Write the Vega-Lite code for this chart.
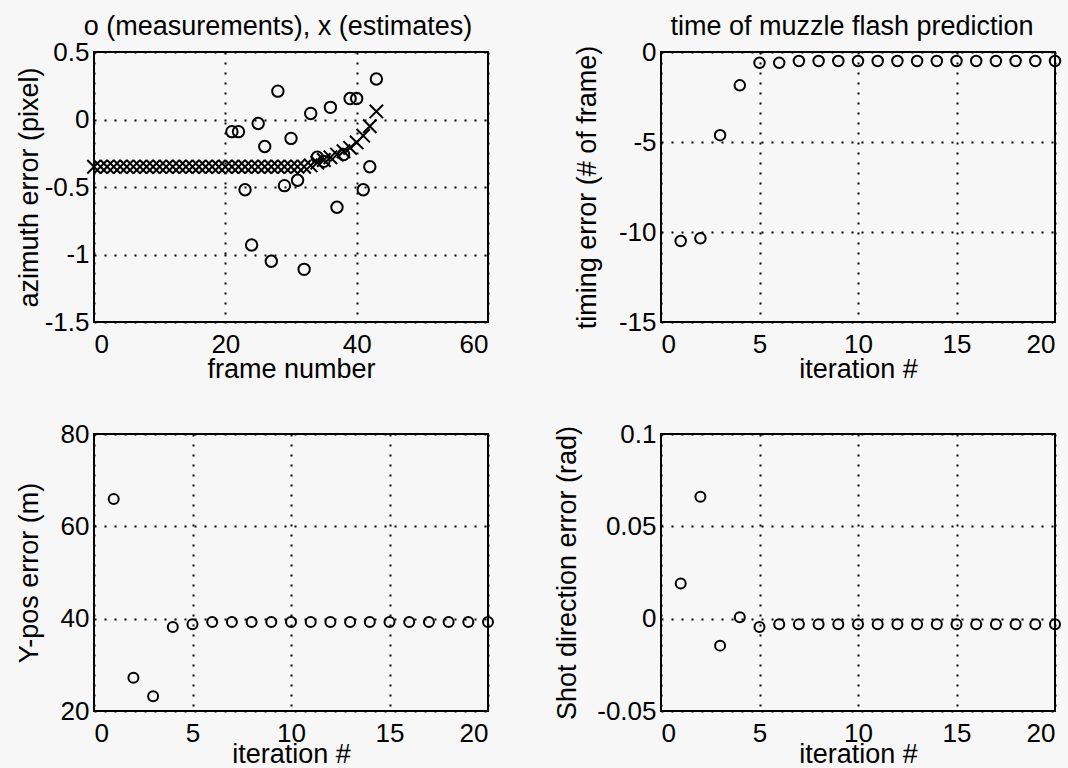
{
  "$schema": "https://vega.github.io/schema/vega-lite/v6.json",
  "background": "#f7f7f7",
  "padding": {"left": 13, "top": 12, "right": 5, "bottom": 5},
  "config": {
    "font": "Liberation Sans",
    "view": {"stroke": "black", "strokeWidth": 2, "fill": null},
    "axis": {
      "grid": true,
      "gridColor": "black",
      "gridDash": [2, 8],
      "gridWidth": 2,
      "gridOpacity": 1,
      "ticks": false,
      "domain": false,
      "labelFont": "Liberation Sans",
      "labelFontSize": 26,
      "labelColor": "black",
      "titleFont": "Liberation Sans",
      "titleFontSize": 27,
      "titleFontWeight": "normal",
      "titleColor": "black"
    },
    "axisX": {"labelPadding": 9, "titleY": 33},
    "axisY": {"labelPadding": 5},
    "title": {"font": "Liberation Sans", "fontSize": 27, "fontWeight": "normal", "color": "black", "offset": -2, "anchor": "middle", "frame": "group"},
    "point": {"filled": false, "stroke": "black", "strokeWidth": 2, "opacity": 1}
  },
  "datasets": {
    "azimuth": [
      {"frame": 0, "error": -0.35, "kind": "estimate"},
      {"frame": 1, "error": -0.35, "kind": "estimate"},
      {"frame": 2, "error": -0.35, "kind": "estimate"},
      {"frame": 3, "error": -0.35, "kind": "estimate"},
      {"frame": 4, "error": -0.35, "kind": "estimate"},
      {"frame": 5, "error": -0.35, "kind": "estimate"},
      {"frame": 6, "error": -0.35, "kind": "estimate"},
      {"frame": 7, "error": -0.35, "kind": "estimate"},
      {"frame": 8, "error": -0.35, "kind": "estimate"},
      {"frame": 9, "error": -0.35, "kind": "estimate"},
      {"frame": 10, "error": -0.35, "kind": "estimate"},
      {"frame": 11, "error": -0.35, "kind": "estimate"},
      {"frame": 12, "error": -0.35, "kind": "estimate"},
      {"frame": 13, "error": -0.35, "kind": "estimate"},
      {"frame": 14, "error": -0.35, "kind": "estimate"},
      {"frame": 15, "error": -0.35, "kind": "estimate"},
      {"frame": 16, "error": -0.35, "kind": "estimate"},
      {"frame": 17, "error": -0.35, "kind": "estimate"},
      {"frame": 18, "error": -0.35, "kind": "estimate"},
      {"frame": 19, "error": -0.35, "kind": "estimate"},
      {"frame": 20, "error": -0.35, "kind": "estimate"},
      {"frame": 21, "error": -0.35, "kind": "estimate"},
      {"frame": 22, "error": -0.35, "kind": "estimate"},
      {"frame": 23, "error": -0.35, "kind": "estimate"},
      {"frame": 24, "error": -0.35, "kind": "estimate"},
      {"frame": 25, "error": -0.35, "kind": "estimate"},
      {"frame": 26, "error": -0.35, "kind": "estimate"},
      {"frame": 27, "error": -0.35, "kind": "estimate"},
      {"frame": 28, "error": -0.35, "kind": "estimate"},
      {"frame": 29, "error": -0.35, "kind": "estimate"},
      {"frame": 30, "error": -0.35, "kind": "estimate"},
      {"frame": 31, "error": -0.35, "kind": "estimate"},
      {"frame": 32, "error": -0.35, "kind": "estimate"},
      {"frame": 33, "error": -0.34, "kind": "estimate"},
      {"frame": 34, "error": -0.32, "kind": "estimate"},
      {"frame": 35, "error": -0.3, "kind": "estimate"},
      {"frame": 36, "error": -0.28, "kind": "estimate"},
      {"frame": 37, "error": -0.26, "kind": "estimate"},
      {"frame": 38, "error": -0.235, "kind": "estimate"},
      {"frame": 39, "error": -0.21, "kind": "estimate"},
      {"frame": 40, "error": -0.17, "kind": "estimate"},
      {"frame": 41, "error": -0.12, "kind": "estimate"},
      {"frame": 42, "error": -0.05, "kind": "estimate"},
      {"frame": 43, "error": 0.06, "kind": "estimate"},
      {"frame": 21, "error": -0.09, "kind": "measurement"},
      {"frame": 22, "error": -0.09, "kind": "measurement"},
      {"frame": 23, "error": -0.52, "kind": "measurement"},
      {"frame": 24, "error": -0.93, "kind": "measurement"},
      {"frame": 25, "error": -0.03, "kind": "measurement"},
      {"frame": 26, "error": -0.2, "kind": "measurement"},
      {"frame": 27, "error": -1.05, "kind": "measurement"},
      {"frame": 28, "error": 0.21, "kind": "measurement"},
      {"frame": 29, "error": -0.49, "kind": "measurement"},
      {"frame": 30, "error": -0.14, "kind": "measurement"},
      {"frame": 31, "error": -0.45, "kind": "measurement"},
      {"frame": 32, "error": -1.11, "kind": "measurement"},
      {"frame": 33, "error": 0.045, "kind": "measurement"},
      {"frame": 34, "error": -0.28, "kind": "measurement"},
      {"frame": 35, "error": -0.31, "kind": "measurement"},
      {"frame": 36, "error": 0.09, "kind": "measurement"},
      {"frame": 37, "error": -0.65, "kind": "measurement"},
      {"frame": 38, "error": -0.26, "kind": "measurement"},
      {"frame": 39, "error": 0.155, "kind": "measurement"},
      {"frame": 40, "error": 0.155, "kind": "measurement"},
      {"frame": 41, "error": -0.52, "kind": "measurement"},
      {"frame": 42, "error": -0.35, "kind": "measurement"},
      {"frame": 43, "error": 0.3, "kind": "measurement"}
    ],
    "timing": [
      {"iteration": 1, "error": -10.5},
      {"iteration": 2, "error": -10.35},
      {"iteration": 3, "error": -4.62},
      {"iteration": 4, "error": -1.85},
      {"iteration": 5, "error": -0.6},
      {"iteration": 6, "error": -0.6},
      {"iteration": 7, "error": -0.5},
      {"iteration": 8, "error": -0.5},
      {"iteration": 9, "error": -0.5},
      {"iteration": 10, "error": -0.5},
      {"iteration": 11, "error": -0.5},
      {"iteration": 12, "error": -0.5},
      {"iteration": 13, "error": -0.5},
      {"iteration": 14, "error": -0.5},
      {"iteration": 15, "error": -0.5},
      {"iteration": 16, "error": -0.5},
      {"iteration": 17, "error": -0.5},
      {"iteration": 18, "error": -0.5},
      {"iteration": 19, "error": -0.5},
      {"iteration": 20, "error": -0.5}
    ],
    "ypos": [
      {"iteration": 1, "error": 65.9},
      {"iteration": 2, "error": 27.2},
      {"iteration": 3, "error": 23.2},
      {"iteration": 4, "error": 38.2},
      {"iteration": 5, "error": 38.8},
      {"iteration": 6, "error": 39.3},
      {"iteration": 7, "error": 39.3},
      {"iteration": 8, "error": 39.3},
      {"iteration": 9, "error": 39.3},
      {"iteration": 10, "error": 39.3},
      {"iteration": 11, "error": 39.3},
      {"iteration": 12, "error": 39.3},
      {"iteration": 13, "error": 39.3},
      {"iteration": 14, "error": 39.3},
      {"iteration": 15, "error": 39.3},
      {"iteration": 16, "error": 39.3},
      {"iteration": 17, "error": 39.3},
      {"iteration": 18, "error": 39.3},
      {"iteration": 19, "error": 39.3},
      {"iteration": 20, "error": 39.3}
    ],
    "direction": [
      {"iteration": 1, "error": 0.019},
      {"iteration": 2, "error": 0.066},
      {"iteration": 3, "error": -0.0146},
      {"iteration": 4, "error": 0.0008},
      {"iteration": 5, "error": -0.0045},
      {"iteration": 6, "error": -0.003},
      {"iteration": 7, "error": -0.003},
      {"iteration": 8, "error": -0.003},
      {"iteration": 9, "error": -0.003},
      {"iteration": 10, "error": -0.003},
      {"iteration": 11, "error": -0.003},
      {"iteration": 12, "error": -0.003},
      {"iteration": 13, "error": -0.003},
      {"iteration": 14, "error": -0.003},
      {"iteration": 15, "error": -0.003},
      {"iteration": 16, "error": -0.003},
      {"iteration": 17, "error": -0.003},
      {"iteration": 18, "error": -0.003},
      {"iteration": 19, "error": -0.003},
      {"iteration": 20, "error": -0.003}
    ]
  },
  "bounds": "flush",
  "columns": 2,
  "spacing": {"row": 112, "column": 173},
  "concat": [
    {
      "width": 394,
      "height": 270,
      "title": {"text": "o (measurements), x (estimates)", "dx": -13},
      "data": {"name": "azimuth"},
      "mark": {"type": "point"},
      "encoding": {
        "x": {"field": "frame", "type": "quantitative", "scale": {"domain": [0, 60], "nice": false, "zero": false},
              "axis": {"values": [0, 20, 40, 60], "title": "frame number", "titleY": 34}},
        "y": {"field": "error", "type": "quantitative", "scale": {"domain": [-1.5, 0.5], "nice": false, "zero": false},
              "axis": {"values": [-1.5, -1, -0.5, 0, 0.5], "title": "azimuth error (pixel)", "titleX": -51,
                       "labelExpr": "datum.value < 0 ? '-' + format(-datum.value, '~g') : format(datum.value, '~g')"}},
        "shape": {"field": "kind", "type": "nominal", "legend": null,
                  "scale": {"domain": ["measurement", "estimate"], "range": ["circle", "M-1,-1L1,1M-1,1L1,-1"]}},
        "size": {"field": "kind", "type": "nominal", "legend": null,
                 "scale": {"domain": ["measurement", "estimate"], "range": [130, 180]}}
      }
    },
    {
      "width": 394,
      "height": 270,
      "title": {"text": "time of muzzle flash prediction", "dx": -6},
      "data": {"name": "timing"},
      "mark": {"type": "point", "shape": "circle", "size": 110},
      "encoding": {
        "x": {"field": "iteration", "type": "quantitative", "scale": {"domain": [0, 20], "nice": false, "zero": false},
              "axis": {"values": [0, 5, 10, 15, 20], "title": "iteration #", "titleY": 34}},
        "y": {"field": "error", "type": "quantitative", "scale": {"domain": [-15, 0], "nice": false, "zero": false},
              "axis": {"values": [-15, -10, -5, 0], "title": "timing error (# of frame)", "titleX": -60,
                       "labelExpr": "datum.value < 0 ? '-' + format(-datum.value, '~g') : format(datum.value, '~g')"}}
      }
    },
    {
      "width": 394,
      "height": 277,
      "data": {"name": "ypos"},
      "mark": {"type": "point", "shape": "circle", "size": 100},
      "encoding": {
        "x": {"field": "iteration", "type": "quantitative", "scale": {"domain": [0, 20], "nice": false, "zero": false},
              "axis": {"values": [0, 5, 10, 15, 20], "title": "iteration #", "titleY": 30}},
        "y": {"field": "error", "type": "quantitative", "scale": {"domain": [20, 80], "nice": false, "zero": false},
              "axis": {"values": [20, 40, 60, 80], "title": "Y-pos error (m)", "titleX": -51,
                       "labelExpr": "datum.value < 0 ? '-' + format(-datum.value, '~g') : format(datum.value, '~g')"}}
      }
    },
    {
      "width": 394,
      "height": 277,
      "data": {"name": "direction"},
      "mark": {"type": "point", "shape": "circle", "size": 100},
      "encoding": {
        "x": {"field": "iteration", "type": "quantitative", "scale": {"domain": [0, 20], "nice": false, "zero": false},
              "axis": {"values": [0, 5, 10, 15, 20], "title": "iteration #", "titleY": 30}},
        "y": {"field": "error", "type": "quantitative", "scale": {"domain": [-0.05, 0.1], "nice": false, "zero": false},
              "axis": {"values": [-0.05, 0, 0.05, 0.1], "title": "Shot direction error (rad)", "titleX": -80,
                       "labelExpr": "datum.value < 0 ? '-' + format(-datum.value, '~g') : format(datum.value, '~g')"}}
      }
    }
  ]
}
